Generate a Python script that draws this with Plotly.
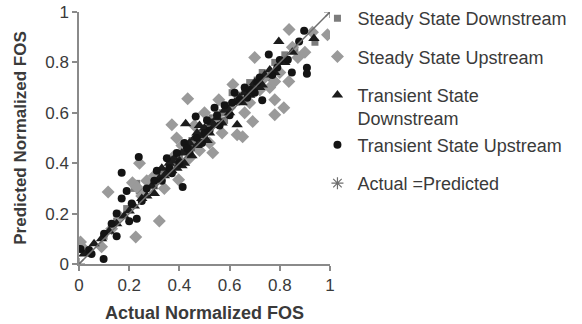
import plotly.graph_objects as go

# Steady state, downstream slope (squares)
ssd_x = [0.03, 0.10, 0.15, 0.19, 0.22, 0.23, 0.24, 0.26, 0.30, 0.33, 0.35, 0.38, 0.40, 0.42,
         0.45, 0.46, 0.48, 0.50, 0.53, 0.55, 0.57, 0.60, 0.61, 0.63, 0.66, 0.68, 0.70, 0.73,
         0.75, 0.78, 0.82, 0.86, 0.94, 0.36, 0.44, 0.52, 0.58, 0.64, 0.71, 0.77]
ssd_y = [0.05, 0.11, 0.17, 0.22, 0.30, 0.32, 0.29, 0.28, 0.31, 0.36, 0.37, 0.40, 0.42, 0.47,
         0.49, 0.46, 0.52, 0.50, 0.58, 0.56, 0.60, 0.63, 0.68, 0.66, 0.69, 0.72, 0.70, 0.76,
         0.74, 0.80, 0.83, 0.85, 0.88, 0.39, 0.45, 0.55, 0.57, 0.67, 0.73, 0.76]

# Steady state, upstream slope (diamonds)
ssu_x = [0.006, 0.02, 0.09, 0.116, 0.13, 0.16, 0.213, 0.226, 0.23, 0.241, 0.25, 0.27, 0.30,
         0.32, 0.34, 0.37, 0.38, 0.389, 0.397, 0.41, 0.433, 0.44, 0.46, 0.48, 0.50, 0.52,
         0.533, 0.55, 0.557, 0.57, 0.60, 0.613, 0.63, 0.652, 0.66, 0.68, 0.692, 0.70, 0.72,
         0.74, 0.76, 0.78, 0.78, 0.78, 0.80, 0.816, 0.836, 0.837, 0.85, 0.872, 0.90, 0.93, 0.99]
ssu_y = [0.087, 0.06, 0.068, 0.286, 0.14, 0.19, 0.322, 0.107, 0.306, 0.40, 0.27, 0.33, 0.35,
         0.171, 0.30, 0.553, 0.43, 0.50, 0.334, 0.47, 0.656, 0.42, 0.55, 0.45, 0.60, 0.48,
         0.441, 0.58, 0.652, 0.52, 0.62, 0.712, 0.513, 0.505, 0.60, 0.64, 0.565, 0.819, 0.69,
         0.74, 0.70, 0.724, 0.652, 0.592, 0.76, 0.62, 0.724, 0.931, 0.86, 0.819, 0.84, 0.92, 0.91]

# Transient state, downstream slope (triangles)
tsd_x = [0.02, 0.06, 0.09, 0.12, 0.15, 0.18, 0.20, 0.22, 0.25, 0.27, 0.29, 0.30, 0.32, 0.33,
         0.35, 0.36, 0.37, 0.38, 0.39, 0.40, 0.41, 0.42, 0.425, 0.43, 0.44, 0.45, 0.46, 0.47,
         0.48, 0.49, 0.50, 0.52, 0.53, 0.55, 0.57, 0.58, 0.60, 0.62, 0.63, 0.64, 0.66, 0.68,
         0.70, 0.72, 0.74, 0.76, 0.78, 0.796, 0.82, 0.85, 0.936, 0.34, 0.37, 0.41, 0.44,
         0.47, 0.51, 0.54, 0.59, 0.65, 0.69, 0.73]
tsd_y = [0.04, 0.08, 0.10, 0.13, 0.16, 0.19, 0.21, 0.23, 0.26, 0.27, 0.31, 0.28, 0.34, 0.38,
         0.36, 0.40, 0.37, 0.42, 0.38, 0.41, 0.44, 0.40, 0.557, 0.45, 0.48, 0.43, 0.50, 0.47,
         0.55, 0.51, 0.54, 0.52, 0.56, 0.58, 0.56, 0.61, 0.60, 0.64, 0.553, 0.66, 0.68, 0.67,
         0.72, 0.70, 0.75, 0.77, 0.76, 0.883, 0.80, 0.84, 0.895, 0.35, 0.41, 0.39, 0.46,
         0.52, 0.49, 0.55, 0.62, 0.64, 0.70, 0.71]

# Transient state, upstream slope (circles)
tsu_x = [0.006, 0.04, 0.05, 0.098, 0.10, 0.13, 0.15, 0.15, 0.17, 0.17, 0.19, 0.20, 0.21, 0.23,
         0.238, 0.25, 0.27, 0.30, 0.31, 0.33, 0.35, 0.37, 0.39, 0.40, 0.413, 0.42, 0.44, 0.465,
         0.47, 0.49, 0.51, 0.52, 0.54, 0.56, 0.58, 0.60, 0.62, 0.64, 0.66, 0.68, 0.70, 0.72,
         0.73, 0.756, 0.77, 0.79, 0.80, 0.832, 0.848, 0.877, 0.897, 0.908, 0.908, 0.36,
         0.43, 0.50, 0.55, 0.61, 0.67, 0.71]
tsu_y = [0.06, 0.056, 0.04, 0.02, 0.12, 0.16, 0.11, 0.20, 0.362, 0.26, 0.29, 0.17, 0.24, 0.18,
         0.425, 0.25, 0.30, 0.33, 0.37, 0.33, 0.42, 0.36, 0.44, 0.40, 0.306, 0.48, 0.44, 0.585,
         0.50, 0.48, 0.57, 0.53, 0.62, 0.55, 0.63, 0.59, 0.68, 0.65, 0.70, 0.69, 0.68, 0.74,
         0.65, 0.831, 0.75, 0.78, 0.81, 0.811, 0.76, 0.883, 0.926, 0.779, 0.755, 0.38,
         0.46, 0.52, 0.59, 0.64, 0.66, 0.72]

# 1:1 reference line
ref_x = [0, 1]
ref_y = [0, 1]

tick_vals = [0, 0.2, 0.4, 0.6, 0.8, 1]
tick_text = ["0", "0.2", "0.4", "0.6", "0.8", "1"]

FONT = "Liberation Sans, Arial, sans-serif"
TXT = "#3a3a3a"
AXIS = "#8a8a8a"

fig = go.Figure()

fig.add_trace(go.Scatter(
    x=ssd_x, y=ssd_y, mode="markers", name="Steady State Downstream",
    legendgroup="a",
    marker=dict(symbol="square", size=7, color="#7c7c7c")))
fig.add_trace(go.Scatter(
    x=ssu_x, y=ssu_y, mode="markers", name="Steady State Upstream",
    legendgroup="b",
    marker=dict(symbol="diamond", size=10, color="#9a9a9a")))
fig.add_trace(go.Scatter(
    x=tsd_x, y=tsd_y, mode="markers", name="Transient State<br>Downstream",
    legendgroup="c",
    marker=dict(symbol="triangle-up", size=10, color="#1c1c1c")))
fig.add_trace(go.Scatter(
    x=tsu_x, y=tsu_y, mode="markers", name="Transient State Upstream",
    legendgroup="c",
    marker=dict(symbol="circle", size=8, color="#141414")))
fig.add_trace(go.Scatter(
    x=ref_x, y=ref_y, mode="lines", showlegend=False, hoverinfo="skip",
    line=dict(color="#6f6f6f", width=1.5)))
fig.add_trace(go.Scatter(
    x=ref_x, y=ref_y, mode="markers", name="Actual =Predicted",
    legendgroup="e",
    marker=dict(symbol="asterisk-open", size=10, color="#6f6f6f",
                line=dict(color="#6f6f6f", width=1.2))))

axis_common = dict(
    range=[0, 1], tickvals=tick_vals, ticktext=tick_text,
    showgrid=False, zeroline=False, showline=True, linecolor=AXIS, linewidth=1.5,
    ticks="outside", ticklen=5, tickcolor=AXIS, tickwidth=1.5,
    tickfont=dict(family=FONT, size=17, color=TXT),
)

fig.update_layout(
    width=582, height=324,
    margin=dict(l=79, r=252, t=12, b=60, autoexpand=False),
    paper_bgcolor="white", plot_bgcolor="white",
    xaxis=dict(**axis_common,
               title=dict(text="<b>Actual Normalized FOS</b>", standoff=12,
                          font=dict(family=FONT, size=18, color=TXT))),
    yaxis=dict(**axis_common,
               title=dict(text="<b>Predicted Normalized FOS</b>", standoff=14,
                          font=dict(family=FONT, size=17, color=TXT))),
    legend=dict(x=0.95, xanchor="left",
                y=0.647, yanchor="middle",
                font=dict(family=FONT, size=18, color=TXT),
                tracegroupgap=12, valign="top", itemwidth=30,
                bgcolor="rgba(0,0,0,0)"),
    showlegend=True,
)

fig.write_html("out.html")
